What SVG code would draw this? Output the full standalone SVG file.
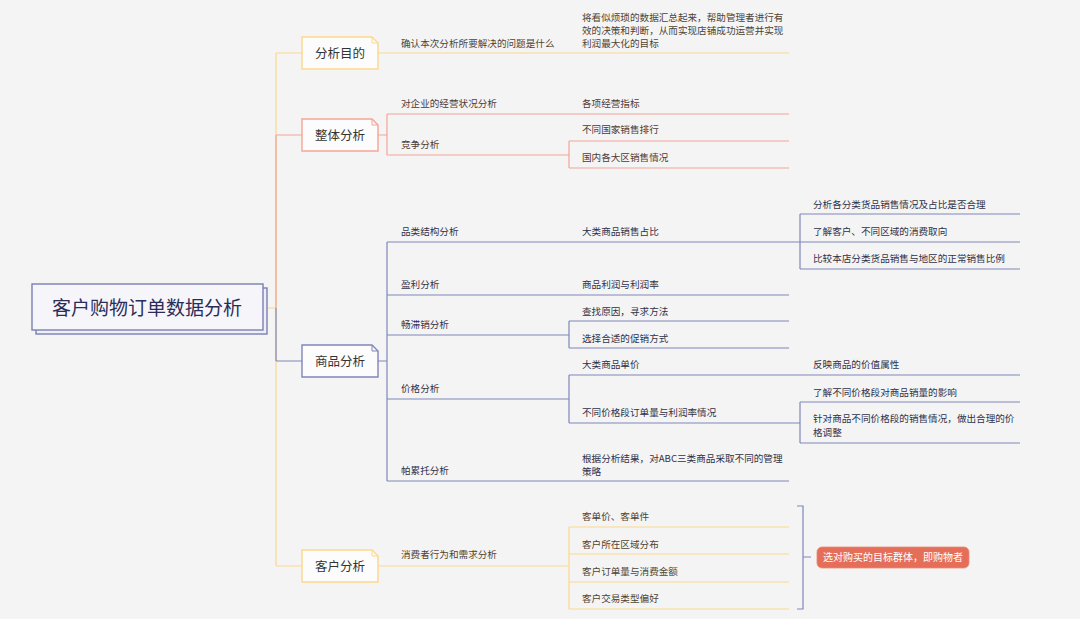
<svg xmlns="http://www.w3.org/2000/svg" width="1080" height="619" viewBox="0 0 1080 619">
<style>
text{font-family:"Noto Sans CJK SC","Noto Sans",sans-serif}
.s{font-size:9.6px}
.ty{fill:#4f4332}
.ts{fill:#4f3933}
.tp{fill:#2f3149}
.b{font-size:12.5px;fill:#333;text-anchor:middle}
.ly{stroke:#fbd88c;fill:none;stroke-width:1.2}
.ls{stroke:#f2a596;fill:none;stroke-width:1.2}
.lp{stroke:#7f86b8;fill:none;stroke-width:1.2}
.box{fill:#fcfcfc;stroke-width:1.4}
</style>
<rect width="1080" height="619" fill="#f4f4f4"/>
<g id="connectors">
<path class="ly" d="M263,308H276M276,53V566M276,53H302M276,566H302" stroke-width="1.5"/>
<path class="ls" d="M276,135V308M276,135H302"/>
<path class="lp" d="M276,308V361M276,361H302"/>
<path class="ly" d="M378,53H789"/>
<path class="ls" d="M378,135H387M387,114V155M387,114H789M387,155H569M569,141V168M569,141H789M569,168H789"/>
<path class="lp" d="M378,361H387M387,242V481M387,242H800M800,214V269M800,214H1020M800,242H1020M800,269H1020M387,295H789M387,335H569M569,321V348M569,321H789M569,348H789M387,399H569M569,375V423M569,375H1020M569,423H800M800,402V443M800,402H1020M800,443H1020M387,481H789"/>
<path class="ly" d="M378,566H569M569,527V609M569,527H789M569,554H789M569,582H789M569,609H789"/>
<path class="lp" d="M797,506H803V609H797M803,557H811"/>
</g>
<g id="root">
<rect x="36" y="288" width="231" height="46" fill="#eeeef4" stroke="#7b7fb4" stroke-width="1.4"/>
<rect x="32" y="284" width="231" height="46" fill="#f6f6fa" stroke="#7b7fb4" stroke-width="1.4"/>
<text x="147" y="314.5" font-size="19" fill="#2a2c5a" text-anchor="middle">客户购物订单数据分析</text>
</g>
<g id="n-mudi">
<path class="box" stroke="#fbd88c" d="M302,37H372L378,43V69H302Z"/>
<path fill="none" stroke="#fbd88c" d="M372,37V43H378"/>
<text class="b" x="340" y="57.5">分析目的</text>
<text class="s ty" x="401" y="46.5">确认本次分析所要解决的问题是什么</text>
<text class="s ty" x="582" y="20.5">将看似烦琐的数据汇总起来，帮助管理者进行有</text>
<text class="s ty" x="582" y="33.5">效的决策和判断，从而实现店铺成功运营并实现</text>
<text class="s ty" x="582" y="46.5">利润最大化的目标</text>
</g>
<g id="n-zhengti">
<path class="box" stroke="#f2a596" d="M302,119H372L378,125V151H302Z"/>
<path fill="none" stroke="#f2a596" d="M372,119V125H378"/>
<text class="b" x="340" y="139.5">整体分析</text>
<text class="s ts" x="401" y="106.5">对企业的经营状况分析</text>
<text class="s ts" x="582" y="106.5">各项经营指标</text>
<text class="s ts" x="401" y="147.5">竞争分析</text>
<text class="s ts" x="582" y="132.5">不同国家销售排行</text>
<text class="s ts" x="582" y="160.5">国内各大区销售情况</text>
</g>
<g id="n-shangpin">
<path class="box" stroke="#7f86b8" d="M302,345H372L378,351V377H302Z"/>
<path fill="none" stroke="#7f86b8" d="M372,345V351H378"/>
<text class="b" x="340" y="365.5">商品分析</text>
<text class="s tp" x="401" y="234.5">品类结构分析</text>
<text class="s tp" x="582" y="234.5">大类商品销售占比</text>
<text class="s tp" x="813" y="207.5">分析各分类货品销售情况及占比是否合理</text>
<text class="s tp" x="813" y="234.5">了解客户、不同区域的消费取向</text>
<text class="s tp" x="813" y="261.5">比较本店分类货品销售与地区的正常销售比例</text>
<text class="s tp" x="401" y="287.5">盈利分析</text>
<text class="s tp" x="582" y="287.5">商品利润与利润率</text>
<text class="s tp" x="401" y="327.5">畅滞销分析</text>
<text class="s tp" x="582" y="314.5">查找原因，寻求方法</text>
<text class="s tp" x="582" y="341.5">选择合适的促销方式</text>
<text class="s tp" x="401" y="391.5">价格分析</text>
<text class="s tp" x="582" y="367.5">大类商品单价</text>
<text class="s tp" x="813" y="367.5">反映商品的价值属性</text>
<text class="s tp" x="582" y="415.5">不同价格段订单量与利润率情况</text>
<text class="s tp" x="813" y="395.5">了解不同价格段对商品销量的影响</text>
<text class="s tp" x="813" y="421.5">针对商品不同价格段的销售情况，做出合理的价</text>
<text class="s tp" x="813" y="435.5">格调整</text>
<text class="s tp" x="401" y="473.5">帕累托分析</text>
<text class="s tp" x="582" y="461.5">根据分析结果，对ABC三类商品采取不同的管理</text>
<text class="s tp" x="582" y="474.5">策略</text>
</g>
<g id="n-kehu">
<path class="box" stroke="#fbd88c" d="M302,550H372L378,556V582H302Z"/>
<path fill="none" stroke="#fbd88c" d="M372,550V556H378"/>
<text class="b" x="340" y="570.5">客户分析</text>
<text class="s ty" x="401" y="557.5">消费者行为和需求分析</text>
<text class="s ty" x="582" y="519.5">客单价、客单件</text>
<text class="s ty" x="582" y="547.5">客户所在区域分布</text>
<text class="s ty" x="582" y="574.5">客户订单量与消费金额</text>
<text class="s ty" x="582" y="601.5">客户交易类型偏好</text>
</g>
<g id="summary">
<rect x="817" y="547" width="152" height="21" rx="5" fill="#e56e58" stroke="#e88a78" stroke-width="0.8"/>
<text x="893" y="561" font-size="10" fill="#ffffff" text-anchor="middle">选对购买的目标群体，即购物者</text>
</g>
</svg>
